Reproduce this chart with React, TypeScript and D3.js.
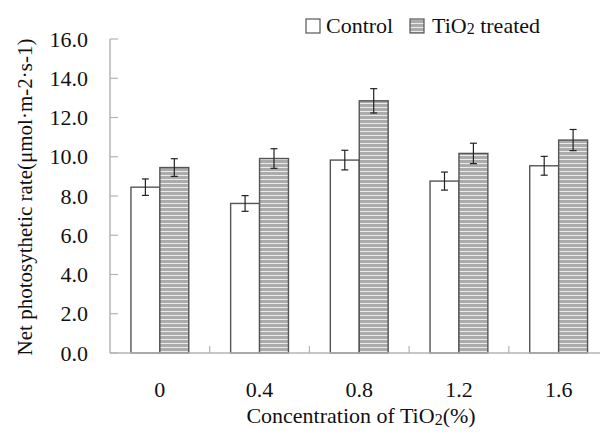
import React from "react";
import * as d3 from "d3";

const WIDTH = 600;
const HEIGHT = 435;

const categories = ["0", "0.4", "0.8", "1.2", "1.6"];
const series = ["Control", "TiO2 treated"];
const controlValues = [8.45, 7.62, 9.83, 8.76, 9.54];
const controlErrors = [0.42, 0.4, 0.5, 0.46, 0.48];
const treatedValues = [9.45, 9.91, 12.85, 10.17, 10.85];
const treatedErrors = [0.45, 0.5, 0.62, 0.52, 0.54];
const yTicks = [0, 2, 4, 6, 8, 10, 12, 14, 16];

const FONT = '"Liberation Serif", "Times New Roman", "DejaVu Serif", serif';
const AXIS_COLOR = "#b4b4b4";

export default function App() {
  const left = 110;
  const bottom = 353;
  const top = 39;

  const y = d3.scaleLinear().domain([0, 16]).range([bottom, top]);
  const x0 = d3.scaleBand().domain(categories).range([left, 608.5]).padding(0);
  const x1 = d3
    .scaleBand()
    .domain(series)
    .range([0, x0.bandwidth()])
    .paddingInner(0)
    .paddingOuter(0.724);

  const values = [controlValues, treatedValues];
  const errors = [controlErrors, treatedErrors];

  return (
    <svg
      width={WIDTH}
      height={HEIGHT}
      style={{ position: "absolute", left: 0, top: 0, background: "#fff", fontFamily: FONT }}
    >
      <defs>
        <pattern id="hatch" width={6} height={4} patternUnits="userSpaceOnUse">
          <rect width={6} height={4} fill="#ababab" />
          <rect y={3} width={6} height={1} fill="#ececec" />
        </pattern>
      </defs>

      {/* y axis */}
      <line x1={left} x2={left} y1={top} y2={bottom} stroke={AXIS_COLOR} strokeWidth={1.5} />
      {yTicks.map((t) => (
        <g key={t}>
          <line x1={left} x2={left + 8} y1={y(t)} y2={y(t)} stroke={AXIS_COLOR} strokeWidth={1.2} />
          <text
            x={88}
            y={y(t)}
            dy="0.35em"
            textAnchor="end"
            fontSize={22}
            fill="#111"
          >
            {t.toFixed(1)}
          </text>
        </g>
      ))}

      {/* bars */}
      {categories.map((c, i) => (
        <g key={c} transform={`translate(${x0(c)},0)`}>
          {series.map((s, j) => {
            const v = values[j][i];
            const e = errors[j][i];
            const bx = x1(s) as number;
            const cx = bx + x1.bandwidth() / 2;
            return (
              <g key={s}>
                <rect
                  x={bx}
                  y={y(v)}
                  width={x1.bandwidth()}
                  height={bottom - y(v)}
                  fill={j === 0 ? "#fff" : "url(#hatch)"}
                  stroke="#555"
                  strokeWidth={1.4}
                />
                <line x1={cx} x2={cx} y1={y(v + e)} y2={y(v - e)} stroke="#222" strokeWidth={1.2} />
                <line x1={cx - 3.5} x2={cx + 3.5} y1={y(v + e)} y2={y(v + e)} stroke="#222" strokeWidth={1.2} />
                <line x1={cx - 3.5} x2={cx + 3.5} y1={y(v - e)} y2={y(v - e)} stroke="#222" strokeWidth={1.2} />
              </g>
            );
          })}
          <text
            x={x0.bandwidth() / 2}
            y={397}
            textAnchor="middle"
            fontSize={22}
            fill="#111"
          >
            {c}
          </text>
        </g>
      ))}

      {/* x axis */}
      <line x1={left} x2={608.5} y1={bottom} y2={bottom} stroke={AXIS_COLOR} strokeWidth={1.5} />
      {categories.slice(1).map((c) => (
        <line
          key={c}
          x1={x0(c)}
          x2={x0(c)}
          y1={bottom}
          y2={bottom - 7}
          stroke={AXIS_COLOR}
          strokeWidth={1.2}
        />
      ))}

      {/* axis titles */}
      <text x={361} y={423} textAnchor="middle" fontSize={22} fill="#111">
        Concentration of TiO
        <tspan fontSize={16} dy={2}>2</tspan>
        <tspan dy={-2}>(%)</tspan>
      </text>
      <text
        transform={`translate(32,197) rotate(-90)`}
        textAnchor="middle"
        fontSize={21}
        fill="#111"
      >
        Net photosythetic rate(μmol·m-2·s-1)
      </text>

      {/* legend */}
      <rect x={306} y={19} width={14} height={14} fill="#fff" stroke="#555" strokeWidth={1.2} />
      <text x={326} y={33} fontSize={22} fill="#111">
        Control
      </text>
      <rect x={410} y={19} width={14} height={14} fill="url(#hatch)" stroke="#555" strokeWidth={1.2} />
      <text x={432} y={33} fontSize={22} fill="#111">
        TiO
        <tspan fontSize={16} dy={1}>2</tspan>
        <tspan dy={-1}> treated</tspan>
      </text>
    </svg>
  );
}
